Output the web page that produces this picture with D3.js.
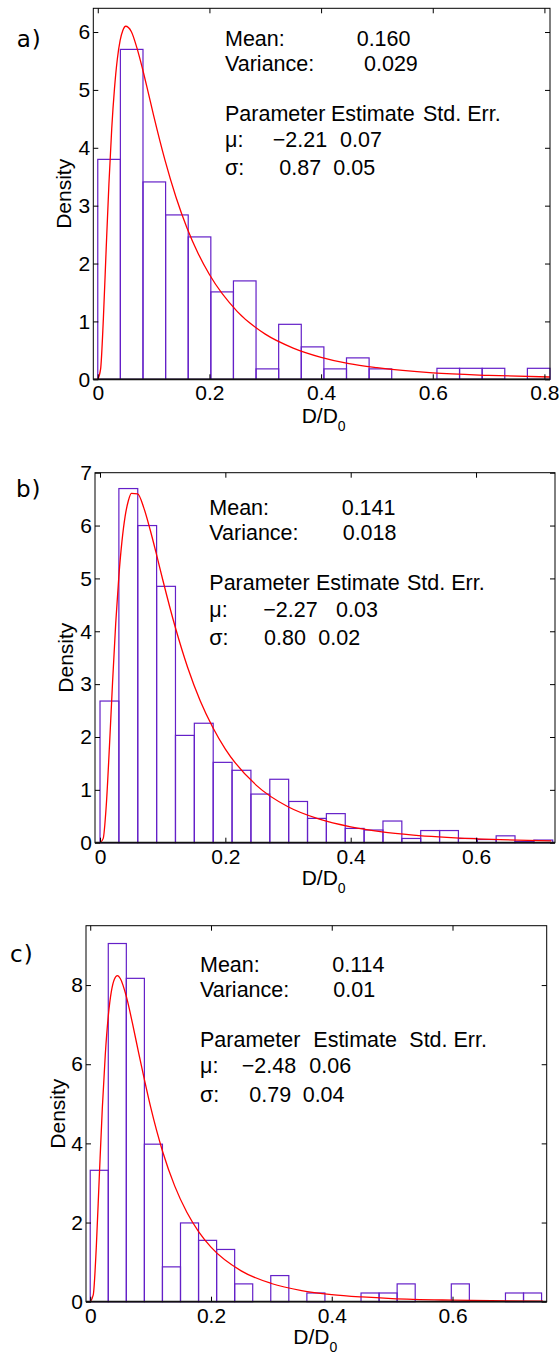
<!DOCTYPE html>
<html><head><meta charset="utf-8">
<script src="https://cdn.jsdelivr.net/npm/d3@7"></script>
<style>
body{margin:0;background:#fff}
svg{display:block;background:#fff}
text{font-family:"Liberation Sans",Arial,Helvetica,sans-serif;fill:#000}
</style></head>
<body><svg id="chart" width="560" height="1356"></svg>
<script>
// ---------- data ----------
const panelLabels = ["a)", "b)", "c)"];

// histogram densities (bins start at binStart, width binWidth)
const densA = [3.80, 5.70, 3.41, 2.84, 2.46, 1.51, 1.70, 0.18, 0.95, 0.56, 0.18, 0.37, 0.18, 0, 0, 0.19, 0.19, 0.19, 0, 0.19];
const densB = [2.68, 6.70, 6.00, 4.85, 2.03, 2.26, 1.52, 1.37, 0.92, 1.20, 0.78, 0.46, 0.55, 0.27, 0.24, 0.41, 0.08, 0.23, 0.23, 0.08, 0.06, 0.13, 0.02, 0.05];
const densC = [3.32, 9.05, 8.17, 3.98, 0.88, 1.99, 1.55, 1.32, 0.45, 0, 0.66, 0, 0.22, 0, 0, 0.22, 0.22, 0.45, 0, 0, 0.45, 0, 0, 0.22, 0.22];
const binStarts = [0.0, 0.0, 0.0];
const binWidths = [0.0405, 0.0301, 0.0299];

// fitted curves
const curveXA = [0, 0.005, 0.01, 0.015, 0.02, 0.025, 0.03, 0.035, 0.04, 0.045, 0.05, 0.06, 0.07, 0.08, 0.09, 0.10, 0.12, 0.14, 0.16, 0.18, 0.20, 0.25, 0.30, 0.35, 0.40, 0.45, 0.50, 0.60, 0.70, 0.81];
const curveYA = [0, 0.17, 1.04, 2.24, 3.38, 4.33, 5.03, 5.53, 5.85, 6.03, 6.10, 6.01, 5.73, 5.37, 4.97, 4.56, 3.80, 3.15, 2.61, 2.17, 1.81, 1.17, 0.78, 0.54, 0.38, 0.27, 0.20, 0.11, 0.068, 0.040];
const curveXB = [0, 0.005, 0.01, 0.015, 0.02, 0.025, 0.03, 0.035, 0.04, 0.045, 0.05, 0.06, 0.07, 0.08, 0.09, 0.10, 0.12, 0.14, 0.16, 0.18, 0.20, 0.25, 0.30, 0.35, 0.40, 0.45, 0.50, 0.60, 0.72];
const curveYB = [0, 0.077, 0.71, 1.81, 3.03, 4.14, 5.03, 5.70, 6.17, 6.46, 6.61, 6.60, 6.33, 5.92, 5.46, 4.98, 4.08, 3.31, 2.68, 2.18, 1.77, 1.08, 0.68, 0.445, 0.30, 0.204, 0.143, 0.074, 0.036];
const curveXC = [0, 0.005, 0.01, 0.015, 0.02, 0.025, 0.03, 0.035, 0.04, 0.045, 0.05, 0.06, 0.07, 0.08, 0.09, 0.10, 0.12, 0.14, 0.16, 0.18, 0.20, 0.25, 0.30, 0.35, 0.40, 0.45, 0.50, 0.60, 0.75];
const curveYC = [0, 0.17, 1.36, 3.15, 4.88, 6.26, 7.23, 7.84, 8.15, 8.24, 8.16, 7.70, 7.03, 6.30, 5.59, 4.92, 3.79, 2.92, 2.26, 1.76, 1.38, 0.78, 0.46, 0.28, 0.18, 0.12, 0.078, 0.038, 0.014];

// statistics text
const meanVals = ["0.160", "0.141", "0.114"];
const varVals = ["0.029", "0.018", "0.01"];
const muEst = ["\u22122.21", "\u22122.27", "\u22122.48"];
const muErr = ["0.07", "0.03", "0.06"];
const sigEst = ["0.87", "0.80", "0.79"];
const sigErr = ["0.05", "0.02", "0.04"];
const headerParts = ["Parameter", "Estimate", "Std. Err."];

// ticks
const xTicksA = [0, 0.2, 0.4, 0.6, 0.8];
const xTicksB = [0, 0.2, 0.4, 0.6];
const xTicksC = [0, 0.2, 0.4, 0.6];
const yTicksA = [0, 1, 2, 3, 4, 5, 6];
const yTicksB = [0, 1, 2, 3, 4, 5, 6, 7];
const yTicksC = [0, 2, 4, 6, 8];
const xDomains = [[-0.008, 0.81], [-0.008, 0.726], [-0.007, 0.756]];
const yDomains = [[0, 6.41], [0, 7], [0, 9.5]];

// ---------- layout ----------
const layouts = [
  {box:{l:93.3, r:550, t:8.3, b:379.3}, lab:[16.7, 46.5], yLabX:70.7, xLab:[301.7, 423],
   c1:225, xMean:356.7, xVar:364, yMean:45.7, yVar:70.7, yHead:120.7, yMu:147.3, ySig:175,
   xMuEst:272.7, xMuErr:340, xSigEst:279.3, xSigErr:333.3, head:[225, 331, 423]},
  {box:{l:95, r:555, t:472.7, b:842.7}, lab:[16, 496.7], yLabX:73.3, xLab:[301.7, 885.3],
   c1:209.3, xMean:341.7, xVar:342.7, yMean:515, yVar:540, yHead:590, yMu:616.7, ySig:645,
   xMuEst:263.3, xMuErr:336, xSigEst:264, xSigErr:318.3, head:[209.3, 316, 407]},
  {box:{l:86, r:546.7, t:925.7, b:1301.7}, lab:[10, 961.7], yLabX:65, xLab:[293.3, 1343.7],
   c1:200, xMean:332.3, xVar:333.3, yMean:971.7, yVar:996.7, yHead:1046.7, yMu:1073.3, ySig:1101.7,
   xMuEst:241.7, xMuErr:309.3, xSigEst:249.3, xSigErr:302.7, head:[200, 313.3, 409.3]}
];

const dens = [densA, densB, densC];
const cxs = [curveXA, curveXB, curveXC];
const cys = [curveYA, curveYB, curveYC];
const xTicks = [xTicksA, xTicksB, xTicksC];
const yTicks = [yTicksA, yTicksB, yTicksC];

const svg = d3.select("#chart");
const FS = 21;
const FT = 21.5;

layouts.forEach((L, i) => {
  const g = svg.append("g");
  const B = L.box;
  const x = d3.scaleLinear().domain(xDomains[i]).range([B.l, B.r]);
  const y = d3.scaleLinear().domain(yDomains[i]).range([B.b, B.t]);

  // bars
  const bins = dens[i].map((d, k) => ({x0: binStarts[i] + k * binWidths[i], x1: binStarts[i] + (k + 1) * binWidths[i], v: d}));
  g.append("g").selectAll("rect").data(bins).join("rect")
    .attr("x", d => x(d.x0)).attr("width", d => x(d.x1) - x(d.x0))
    .attr("y", d => y(d.v)).attr("height", d => y(0) - y(d.v))
    .attr("fill", "none").attr("stroke", "#6420c8").attr("stroke-width", 1.2);

  // curve
  const pts = cxs[i].map((v, k) => [v, cys[i][k]]);
  g.append("path").datum(pts)
    .attr("d", d3.line().x(d => x(d[0])).y(d => y(d[1])).curve(d3.curveMonotoneX))
    .attr("fill", "none").attr("stroke", "#ff0000").attr("stroke-width", 1.3);

  // axes
  const fmt = d => String(d);
  const ax = (sel) => { sel.select(".domain").remove(); sel.selectAll("line").attr("stroke", "#000"); sel.selectAll("text").attr("font-size", FS).attr("font-family", "Liberation Sans, Arial, sans-serif").attr("fill", "#000"); };
  g.append("g").attr("transform", `translate(0,${B.b})`)
    .call(d3.axisBottom(x).tickValues(xTicks[i]).tickFormat(fmt).tickSizeInner(-5).tickSizeOuter(0).tickPadding(6)).call(ax);
  g.append("g").attr("transform", `translate(0,${B.t})`)
    .call(d3.axisTop(x).tickValues(xTicks[i]).tickFormat("").tickSizeInner(-5).tickSizeOuter(0)).call(ax);
  g.append("g").attr("transform", `translate(${B.l},0)`)
    .call(d3.axisLeft(y).tickValues(yTicks[i]).tickFormat(fmt).tickSizeInner(-5).tickSizeOuter(0).tickPadding(3)).call(ax);
  g.append("g").attr("transform", `translate(${B.r},0)`)
    .call(d3.axisRight(y).tickValues(yTicks[i]).tickFormat("").tickSizeInner(-5).tickSizeOuter(0)).call(ax);

  g.append("rect").attr("x", B.l).attr("y", B.t).attr("width", B.r - B.l).attr("height", B.b - B.t)
    .attr("fill", "none").attr("stroke", "#000").attr("stroke-width", 1);
  g.append("line").attr("x1", B.l).attr("x2", B.r).attr("y1", B.b).attr("y2", B.b)
    .attr("stroke", "#111").attr("stroke-width", 1.8);

  // panel label
  g.append("text").attr("x", L.lab[0]).attr("y", L.lab[1]).text(panelLabels[i])
    .attr("font-size", 23).style("font-family", "'DejaVu Sans', sans-serif").attr("letter-spacing", 1);

  // axis labels
  g.append("text").attr("transform", `translate(${L.yLabX},${(B.t + B.b) / 2}) rotate(-90)`)
    .attr("text-anchor", "middle").attr("font-size", FS).text("Density");
  const xl = g.append("text").attr("x", L.xLab[0]).attr("y", L.xLab[1]).attr("font-size", FS);
  xl.append("tspan").text("D/D");
  xl.append("tspan").attr("font-size", 14).attr("dy", 8).text("0");

  // stats text
  const t = (xx, yy, s) => g.append("text").attr("x", xx).attr("y", yy).attr("font-size", FT).text(s);
  t(L.c1, L.yMean, "Mean:");
  t(L.xMean, L.yMean, meanVals[i]);
  t(L.c1, L.yVar, "Variance:");
  t(L.xVar, L.yVar, varVals[i]);
  headerParts.forEach((h, k) => t(L.head[k], L.yHead, h));
  t(L.c1, L.yMu, "\u03bc:");
  t(L.xMuEst, L.yMu, muEst[i]);
  t(L.xMuErr, L.yMu, muErr[i]);
  t(L.c1, L.ySig, "\u03c3:");
  t(L.xSigEst, L.ySig, sigEst[i]);
  t(L.xSigErr, L.ySig, sigErr[i]);
});
</script></body></html>
